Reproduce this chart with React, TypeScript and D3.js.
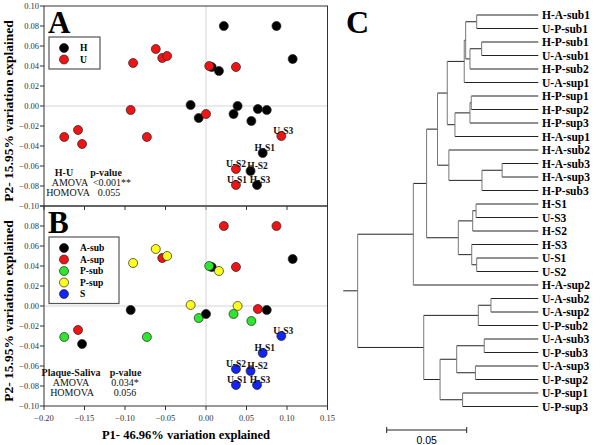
import React from 'react'
import * as d3 from 'd3'

// PCoA coordinates (P1, P2) for the 30 samples
const pc1 = [0.022, 0.087, 0.107, 0.007, 0.016, -0.019, -0.009, 0.039, 0.034, 0.064, 0.075, 0.056, 0.070, 0.055, 0.063,
  -0.175, -0.158, -0.153, -0.090, -0.062, -0.054, -0.048, -0.093, -0.073, 0.000, 0.004, 0.037, 0.093, 0.037, 0.037]
const pc2 = [0.080, 0.080, 0.047, 0.039, 0.035, 0.001, -0.012, 0.000, -0.008, -0.003, -0.004, -0.015, -0.047, -0.065, -0.079,
  -0.031, -0.024, -0.038, 0.043, 0.057, 0.048, 0.050, -0.004, -0.031, -0.008, 0.040, 0.039, -0.030, -0.063, -0.079]
const host = ['H', 'H', 'H', 'H', 'H', 'H', 'H', 'H', 'H', 'H', 'H', 'H', 'H', 'H', 'H',
  'U', 'U', 'U', 'U', 'U', 'U', 'U', 'U', 'U', 'U', 'U', 'U', 'U', 'U', 'U']
const site = ['A-sup', 'A-sup', 'A-sub', 'A-sub', 'P-sup', 'P-sup', 'P-sub', 'P-sup', 'P-sub', 'A-sup', 'A-sub', 'P-sub', 'S', 'S', 'S',
  'P-sub', 'A-sup', 'A-sub', 'P-sup', 'P-sup', 'A-sup', 'P-sup', 'A-sub', 'P-sub', 'A-sub', 'P-sub', 'A-sup', 'S', 'S', 'S']
const pointLabel = ['', '', '', '', '', '', '', '', '', '', '', '', 'H-S1', 'H-S2', 'H-S3',
  '', '', '', '', '', '', '', '', '', '', '', '', 'U-S3', 'U-S2', 'U-S1']

const hostKeys = ['H', 'U']
const hostColors = ['#000000', '#f01414']
const siteKeys = ['A-sub', 'A-sup', 'P-sub', 'P-sup', 'S']
const siteColors = ['#000000', '#f01414', '#2ee62e', '#ffff1e', '#1424f5']

const xTicks = [-0.2, -0.15, -0.1, -0.05, 0, 0.05, 0.1, 0.15]
const yTicks = [-0.1, -0.08, -0.06, -0.04, -0.02, 0, 0.02, 0.04, 0.06, 0.08, 0.1]

const statsA = [['H-U', 'p-value'], ['AMOVA', '<0.001**'], ['HOMOVA', '0.055']]
const statsB = [['Plaque-Saliva', 'p-value'], ['AMOVA', '0.034*'], ['HOMOVA', '0.056']]

// UPGMA dendrogram: internal nodes carry their height (distance to tips)
type TNode = { h: number; n?: string; c?: TNode[] }
const leaf = (n: string): TNode => ({ h: 0, n })
const node = (h: number, ...c: TNode[]): TNode => ({ h, c })

const tree = node(0.1129,
  node(0.0781,
    node(0.0698,
      node(0.0630,
        node(0.0569,
          node(0.0463,
            node(0.0454,
              node(0.0385, leaf('H-A-sub1'), leaf('U-P-sub1')),
              node(0.0427, node(0.0354, leaf('H-P-sub1'), leaf('U-A-sub1')), leaf('H-P-sub2'))),
            leaf('U-A-sup1')),
          node(0.0521,
            node(0.0427, node(0.0419, leaf('H-P-sup1'), leaf('H-P-sup2')), leaf('H-P-sup3')),
            leaf('H-A-sup1'))),
        node(0.0559,
          leaf('H-A-sub2'),
          node(0.0352, node(0.0226, leaf('H-A-sub3'), leaf('H-A-sup3')), leaf('H-P-sub3')))),
      node(0.0500,
        node(0.0410, node(0.0389, leaf('H-S1'), leaf('U-S3')), leaf('H-S2')),
        node(0.0416, leaf('H-S3'), node(0.0385, leaf('U-S1'), leaf('U-S2'))))),
    leaf('H-A-sup2')),
  node(0.0716,
    node(0.0375, node(0.0296, leaf('U-A-sub2'), leaf('U-A-sup2')), leaf('U-P-sub2')),
    node(0.0614,
      node(0.0510,
        node(0.0338, leaf('U-A-sub3'), leaf('U-P-sub3')),
        node(0.0393, leaf('U-A-sup3'), leaf('U-P-sup2'))),
      node(0.0473, leaf('U-P-sup1'), leaf('U-P-sup3')))))
const rootStub = 0.009
const scaleBar = 0.05

const serif = '"Liberation Serif", "Times New Roman", serif'
const sans = '"Liberation Sans", Arial, sans-serif'

// small nudges so the saliva labels don't sit on top of each other
const labelDx: Record<string, number> = { 'H-S2': 7, 'U-S3': 2, 'H-S1': 2, 'H-S3': 3, 'U-S1': 1, 'U-S2': 0 }

const x = d3.scaleLinear().domain([-0.2, 0.15]).range([44, 327.5])

function Panel({ top, keys, colors, groups, letter, legendW, stats, statX, showTop }: any) {
  const y = d3.scaleLinear().domain([-0.1, 0.1]).range([top + 200, top])
  const color = d3.scaleOrdinal<string, string>().domain(keys).range(colors)
  const legendTop = top + 31
  return (
    <g>
      <line x1={x(0)} x2={x(0)} y1={y(0.1)} y2={y(-0.1)} stroke="#d4d4d4" />
      <line x1={x(-0.2)} x2={x(0.15)} y1={y(0)} y2={y(0)} stroke="#d4d4d4" />
      <rect x={x(-0.2)} y={y(0.1)} width={x(0.15) - x(-0.2)} height={y(-0.1) - y(0.1)} fill="none" stroke="#333" strokeWidth={1} />
      {yTicks.map(t => (
        <g key={t}>
          <line x1={x(-0.2) - 4} x2={x(-0.2)} y1={y(t)} y2={y(t)} stroke="#333" />
          {(showTop || t < 0.1) && (
            <text x={x(-0.2) - 5} y={y(t)} dy="0.33em" textAnchor="end" fontSize={8.5} fontFamily={serif} fill="#333">
              {d3.format('.2f')(t)}
            </text>
          )}
        </g>
      ))}
      {xTicks.map(t => (
        <line key={t} x1={x(t)} x2={x(t)} y1={y(-0.1)} y2={y(-0.1) + 4} stroke="#333" />
      ))}
      {pc1.map((v, i) => (
        <circle key={i} cx={x(v)} cy={y(pc2[i])} r={4.5} fill={color(groups[i])} stroke="#222" strokeWidth={0.7} />
      ))}
      {pc1.map((v, i) => pointLabel[i] && (
        <text key={'l' + i} x={x(v) + (labelDx[pointLabel[i]] || 0)} y={y(pc2[i]) - 2.5} textAnchor="middle"
          fontSize={9.5} fontWeight="bold" fontFamily={serif} fill="#111">{pointLabel[i]}</text>
      ))}
      <text x={48} y={top + 26.5} fontSize={31} fontWeight="bold" fontFamily={serif}>{letter}</text>
      <rect x={49} y={legendTop} width={legendW} height={keys.length * 11.5 + 9} fill="#fff" stroke="#555" strokeWidth={1.2} />
      {keys.map((k: string, i: number) => (
        <g key={k}>
          <circle cx={64} cy={legendTop + 11 + i * 11.5} r={4.5} fill={colors[i]} stroke="#222" strokeWidth={0.7} />
          <text x={80} y={legendTop + 11 + i * 11.5} dy="0.35em" fontSize={9.5} fontWeight="bold" fontFamily={serif}>{k}</text>
        </g>
      ))}
      {stats.map((row: string[], i: number) => (
        <g key={i} fontFamily={serif} fontSize={10} fontWeight={i === 0 ? 'bold' : 'normal'} textAnchor="middle" fill="#111">
          <text x={statX[i][0]} y={top + 170 + i * 10}>{row[0]}</text>
          <text x={statX[i][1]} y={top + 170 + i * 10}>{row[1]}</text>
        </g>
      ))}
    </g>
  )
}

function Dendrogram() {
  const root = d3.hierarchy<TNode>(tree, d => d.c)
  const leaves = root.leaves()
  const yLeaf = d3.scaleLinear().domain([0, leaves.length - 1]).range([15, 406.5])
  const xTree = d3.scaleLinear().domain([0, scaleBar]).range([538.3, 458.3])
  const pos = new Map<any, number>()
  leaves.forEach((l, i) => pos.set(l, yLeaf(i)))
  root.eachAfter(n => {
    if (n.children) pos.set(n, (pos.get(n.children[0])! + pos.get(n.children[n.children.length - 1])!) / 2)
  })
  const nodes = root.descendants()
  const barLen = xTree(0) - xTree(scaleBar)
  return (
    <g>
      <text x={346} y={33} fontSize={32} fontWeight="bold" fontFamily={serif}>C</text>
      <line x1={xTree(root.data.h + rootStub)} x2={xTree(root.data.h)} y1={pos.get(root)} y2={pos.get(root)} stroke="#222" />
      {nodes.filter(n => n.parent).map((n, i) => (
        <line key={'h' + i} x1={xTree(n.parent!.data.h)} x2={xTree(n.data.h)} y1={pos.get(n)} y2={pos.get(n)} stroke="#222" />
      ))}
      {nodes.filter(n => n.children).map((n, i) => (
        <line key={'v' + i} x1={xTree(n.data.h)} x2={xTree(n.data.h)}
          y1={pos.get(n.children![0])} y2={pos.get(n.children![n.children!.length - 1])} stroke="#777" />
      ))}
      {leaves.map((l, i) => (
        <text key={'t' + i} x={542} y={pos.get(l)} dy="0.35em" fontSize={11.5} fontWeight="bold" fontFamily={serif}>{l.data.n}</text>
      ))}
      <g stroke="#222">
        <line x1={386.7} x2={386.7 + barLen} y1={430} y2={430} />
        <line x1={386.7} x2={386.7} y1={427} y2={433} />
        <line x1={386.7 + barLen} x2={386.7 + barLen} y1={427} y2={433} />
      </g>
      <text x={386.7 + barLen / 2} y={444} textAnchor="middle" fontSize={10.5} fontFamily={sans}>{scaleBar}</text>
    </g>
  )
}

export default function App() {
  return (
    <svg width={600} height={445} style={{ position: 'absolute', left: 0, top: 0, background: '#fff' }}>
      <Panel top={6} keys={hostKeys} colors={hostColors} groups={host} letter="A" legendW={51}
        stats={statsA} statX={[[64, 106], [70, 112], [68, 109]]} showTop={true} />
      <Panel top={206} keys={siteKeys} colors={siteColors} groups={site} letter="B" legendW={70}
        stats={statsB} statX={[[71, 125.5], [71, 125], [72, 125]]} showTop={false} />
      {xTicks.map(t => (
        <text key={t} x={x(t)} y={421} textAnchor="middle" fontSize={8.5} fontFamily={serif} fill="#333">{d3.format('.2f')(t)}</text>
      ))}
      <text x={186} y={439} textAnchor="middle" fontSize={12.5} fontWeight="bold" fontFamily={serif}>P1- 46.96% variation explained</text>
      {[111, 311].map(c => (
        <text key={c} transform={`translate(12.5,${c}) rotate(-90)`} textAnchor="middle" fontSize={13.5} fontWeight="bold" fontFamily={serif}>
          P2- 15.95% variation explained
        </text>
      ))}
      <Dendrogram />
    </svg>
  )
}
